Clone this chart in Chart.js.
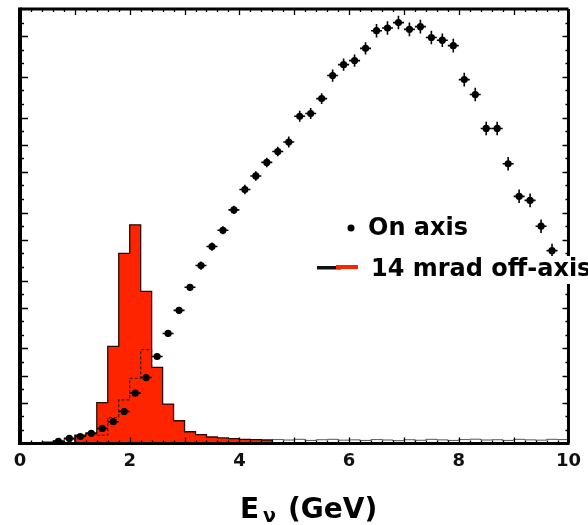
<!DOCTYPE html>
<html><head><meta charset="utf-8">
<script src="https://cdn.jsdelivr.net/npm/chart.js@4.4.1/dist/chart.umd.min.js"></script>
<style>html,body{margin:0;padding:0;background:#fff}#wrap{width:588px;height:525px;position:relative}</style>
</head><body><div id="wrap"><canvas id="c" width="588" height="525"></canvas></div>
<script>
// ---- data ----
const xTickLabels = ['0','2','4','6','8','10'];
const onAxisEnergy = [0.7,0.9,1.1,1.3,1.5,1.7,1.9,2.1,2.3,2.5,2.7,2.9,3.1,3.3,3.5,3.7,3.9,4.1,4.3,4.5,4.7,4.9,5.1,5.3,5.5,5.7,5.9,6.1,6.3,6.5,6.7,6.9,7.1,7.3,7.5,7.7,7.9,8.1,8.3,8.5,8.7,8.9,9.1,9.3,9.5,9.7];
const onAxisFlux = [0.15,0.37,0.51,0.74,1.1,1.6,2.35,3.7,4.85,6.4,8.1,9.8,11.5,13.1,14.5,15.7,17.2,18.7,19.7,20.7,21.5,22.2,24.1,24.3,25.4,27.1,27.9,28.2,29.1,30.4,30.6,31.0,30.5,30.7,29.9,29.7,29.3,26.8,25.7,23.2,23.2,20.6,18.2,17.9,16.0,14.2];
const onAxisErr = [0.1,0.1,0.1,0.1,0.1,0.15,0.15,0.2,0.2,0.2,0.25,0.25,0.25,0.3,0.3,0.3,0.3,0.35,0.35,0.35,0.35,0.4,0.4,0.4,0.4,0.45,0.45,0.45,0.45,0.5,0.5,0.5,0.5,0.5,0.5,0.5,0.5,0.5,0.5,0.5,0.5,0.5,0.5,0.5,0.5,0.5];
const binHalfWidth = 0.1;
const offAxisEdges = [1.0,1.2,1.4,1.6,1.8,2.0,2.2,2.4,2.6,2.8,3.0,3.2,3.4,3.6,3.8,4.0,4.2,4.4];
const offAxisFlux  = [0.6,0.75,3.0,7.15,14.0,16.1,11.2,5.6,2.9,1.67,0.86,0.64,0.47,0.4,0.35,0.3,0.28,0.25];
const offAxisEnd = 4.6;
const dashedEdges = [1.4,1.6,1.8,2.0,2.2,2.4];
const dashedFlux  = [0.6,1.9,3.2,4.8,6.9,5.6];
const tailEdges = [0.4,0.6,0.8,1.0,4.6,4.8,5.0,5.2,5.4,5.6,5.8,6.0,6.2,6.4,6.6,6.8,7.0,7.2,7.4,7.6,7.8,8.0,8.2,8.4,8.6,8.8,9.0,9.2,9.4,9.6,9.8];
const tailFlux  = [0.12,0.2,0.3,0.2,0.28,0.25,0.3,0.22,0.27,0.3,0.24,0.26,0.22,0.28,0.25,0.2,0.27,0.23,0.3,0.26,0.22,0.28,0.31,0.25,0.27,0.22,0.3,0.26,0.24,0.3,0.28];
const tailEnd = 10.0;
const leftMajorTicks = [3,5,7,10,12,15,17,20,22,24,27,30];
const legendLabels = ['On axis','14 mrad off-axis'];

// ---- build histogram step paths ----
function stepPoints(edges, vals, end){
  const pts=[{x:edges[0],y:0}];
  edges.forEach((e,i)=>pts.push({x:e,y:vals[i]}));
  pts.push({x:end,y:0});
  return pts;
}
// step-histogram points: value held from each left edge to the next edge
function histPoints(edges, vals, end){
  const pts=[{x:edges[0],y:0}];
  edges.forEach((e,i)=>{
    pts.push({x:e,y:vals[i]});
    const nx = (i+1<edges.length)?edges[i+1]:end;
    pts.push({x:nx,y:vals[i]});
  });
  pts.push({x:end,y:0});
  return pts;
}
const onAxisPts = onAxisEnergy.map((e,i)=>({x:e,y:onAxisFlux[i]}));
const dashedPts = histPoints(dashedEdges.slice(0,-1), dashedFlux.slice(0,-1), dashedEdges[dashedEdges.length-1]).slice(1,-1);
dashedPts.push({x:dashedEdges[dashedEdges.length-1], y:dashedFlux[dashedFlux.length-1]});

const RED='#ff2400';
const frame = {
  id:'frame',
  afterDatasetsDraw(chart){
    const {ctx, scales:{x,y}} = chart;
    ctx.save();
    ctx.strokeStyle='#000'; ctx.lineWidth=1.6;
    onAxisEnergy.forEach((e,i)=>{
      const f=onAxisFlux[i], er=onAxisErr[i];
      const px=x.getPixelForValue(e), py=y.getPixelForValue(f);
      ctx.beginPath();
      ctx.moveTo(x.getPixelForValue(e-binHalfWidth),py);
      ctx.lineTo(x.getPixelForValue(e+binHalfWidth),py);
      ctx.moveTo(px,y.getPixelForValue(f-er));
      ctx.lineTo(px,y.getPixelForValue(f+er));
      ctx.stroke();
    });
    ctx.restore();
  },
  afterDraw(chart){
    const {ctx, chartArea:a, scales:{x,y}} = chart;
    ctx.save();
    ctx.strokeStyle='#000'; ctx.fillStyle='#000';
    // ticks
    ctx.lineWidth=1.3;
    ctx.beginPath();
    for(let v=1; v<32; v++){
      const py=Math.round(y.getPixelForValue(v))+0.5;
      const L = leftMajorTicks.includes(v)?8:4;
      ctx.moveTo(a.left,py); ctx.lineTo(a.left+L,py);
      const R = leftMajorTicks.includes(v)?6:3;
      ctx.moveTo(a.right,py); ctx.lineTo(a.right-R,py);
    }
    for(let k=1; k<50; k++){
      const e=k*0.2;
      const px=Math.round(x.getPixelForValue(e))+0.5;
      const L = (k%5===0)?6:3;
      ctx.moveTo(px,a.top); ctx.lineTo(px,a.top+L);
      ctx.moveTo(px,a.bottom); ctx.lineTo(px,a.bottom-L);
    }
    ctx.stroke();
    // frame
    ctx.lineWidth=3;
    ctx.beginPath();
    ctx.moveTo(a.left,a.top); ctx.lineTo(a.right,a.top);
    ctx.moveTo(a.right,a.top); ctx.lineTo(a.right,a.bottom);
    ctx.moveTo(a.left-1,a.bottom); ctx.lineTo(a.right+1,a.bottom);
    ctx.stroke();
    ctx.lineWidth=4;
    ctx.beginPath(); ctx.moveTo(a.left,a.top-1.5); ctx.lineTo(a.left,a.bottom+1.5); ctx.stroke();
    // legend
    ctx.font='bold 24px "DejaVu Sans"';
    ctx.textBaseline='middle'; ctx.textAlign='left';
    ctx.beginPath(); ctx.arc(351,228,3.5,0,Math.PI*2); ctx.fill();
    ctx.fillText(legendLabels[0],368,229);
    ctx.fillStyle='#fff'; ctx.fillRect(364,256,224,28);
    ctx.fillStyle='#111'; ctx.fillRect(317,266,24,3.5);
    ctx.fillStyle=RED; ctx.fillRect(336,265,22,4);
    ctx.fillStyle='#000';
    ctx.fillText(legendLabels[1],371,270);
    // axis title
    ctx.textBaseline='alphabetic';
    ctx.font='bold 28px "DejaVu Sans"';
    ctx.fillText('E',240,518);
    ctx.font='bold 19px "DejaVu Sans"';
    ctx.fillText('\u03bd',263,522);
    ctx.font='bold 28px "DejaVu Sans"';
    ctx.fillText('(GeV)',288,518);
    ctx.restore();
  }
};

new Chart(document.getElementById('c'),{
  type:'line',
  data:{datasets:[
    {label:legendLabels[0], data:onAxisPts, showLine:false, pointRadius:3.6, pointBackgroundColor:'#000', pointBorderWidth:0, pointStyle:'circle'},
    {label:'dashed', data:dashedPts, borderColor:'#222', borderWidth:1.2, borderDash:[3,2], pointRadius:0, fill:false, tension:0},
    {label:legendLabels[1], data:histPoints(offAxisEdges,offAxisFlux,offAxisEnd), borderColor:'#2a0a00', borderWidth:1.3, backgroundColor:RED, pointRadius:0, fill:'origin', tension:0},
    {label:'tail', data:histPoints(tailEdges,tailFlux,tailEnd), borderColor:'#555', borderWidth:1, backgroundColor:'#fff', pointRadius:0, fill:'origin', tension:0}
  ]},
  options:{
    responsive:false, animation:false, events:[],
    layout:{padding:{left:20,top:9,right:14,bottom:46}},
    plugins:{legend:{display:false}, tooltip:{enabled:false}},
    scales:{
      x:{type:'linear', min:0, max:10,
         grid:{display:false, drawTicks:false}, border:{display:false},
         ticks:{stepSize:2, padding:7, color:'#111', font:{family:'DejaVu Sans', weight:'bold', size:18},
                callback:(v)=>{const i=Math.round(v/2); return (Math.abs(v-2*i)<1e-6 && xTickLabels[i]!==undefined)?xTickLabels[i]:'';}}},
      y:{type:'linear', min:0, max:32, display:false}
    }
  },
  plugins:[frame]
});
</script></body></html>
